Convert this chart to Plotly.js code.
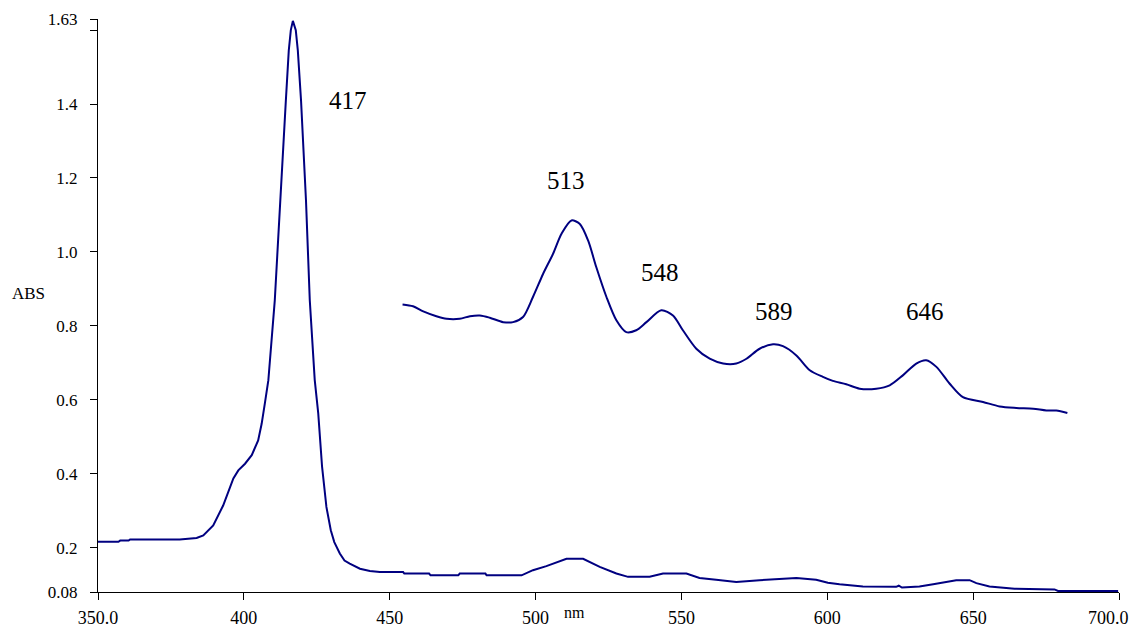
<!DOCTYPE html>
<html>
<head>
<meta charset="utf-8">
<script src="https://cdn.plot.ly/plotly-3.0.1.min.js"></script>
<style>html,body{margin:0;padding:0;background:#fff;}#chart{width:1135px;height:628px;}</style>
</head>
<body>
<div id="chart"></div>
<script>
// Full spectrum (nm, absorbance)
var fullX = [350, 357, 357.6, 360.5, 361, 378, 383.8, 386.1, 389.5, 392.9, 396.4, 398.1, 400.4, 402.7, 404.9, 406.1, 407.2, 408.4, 410.6, 412.4, 414.4, 415.4, 416.1, 416.8, 417.8, 418.5, 419.6, 421.3, 422.6, 424.3, 425.5, 426.8, 428.3, 429.8, 431, 432.9, 434.5, 436.3, 439.8, 443.2, 446.6, 454.6, 455, 463.5, 464, 473.5, 474, 482.8, 483.2, 495.2, 499.1, 503.7, 510.6, 516.3, 522, 527.7, 531.7, 539.1, 543.7, 551.7, 556.2, 561.9, 568.8, 576.8, 583.7, 589.4, 596.2, 600.2, 604.2, 612.2, 623.6, 624.5, 625.6, 631.6, 636.3, 644.2, 648.8, 651.1, 655.6, 664.2, 677.9, 679.1, 699.7];
var fullY = [0.216, 0.216, 0.219, 0.219, 0.222, 0.222, 0.226, 0.233, 0.260, 0.314, 0.387, 0.409, 0.427, 0.450, 0.490, 0.535, 0.590, 0.653, 0.869, 1.139, 1.410, 1.545, 1.600, 1.625, 1.600, 1.545, 1.410, 1.139, 0.869, 0.653, 0.563, 0.420, 0.310, 0.247, 0.215, 0.184, 0.165, 0.157, 0.143, 0.137, 0.134, 0.134, 0.130, 0.130, 0.125, 0.125, 0.130, 0.130, 0.125, 0.125, 0.139, 0.150, 0.170, 0.170, 0.148, 0.130, 0.121, 0.121, 0.130, 0.130, 0.118, 0.113, 0.107, 0.112, 0.115, 0.118, 0.113, 0.105, 0.101, 0.095, 0.094, 0.097, 0.092, 0.095, 0.101, 0.112, 0.112, 0.104, 0.095, 0.089, 0.087, 0.083, 0.083];

// Magnified visible-region trace
var zoomX = [454.4, 458.0, 461.5, 466.0, 469.5, 474.0, 477.5, 480.9, 484.3, 488.9, 492.3, 495.7, 499.1, 502.6, 506.0, 508.9, 512.3, 515.1, 518.0, 520.8, 524.3, 527.7, 531.1, 534.5, 538.0, 543.1, 547.1, 550.5, 555.1, 559.7, 564.3, 568.8, 572.3, 576.8, 581.4, 584.8, 589.4, 594.0, 598.5, 601.9, 606.5, 611.1, 616.8, 621.4, 625.9, 630.5, 633.9, 637.4, 641.9, 646.5, 653.4, 659.1, 664.8, 670.6, 675.1, 678.5, 682.3];
var zoomY = [0.858, 0.853, 0.839, 0.826, 0.819, 0.819, 0.826, 0.828, 0.822, 0.810, 0.810, 0.824, 0.878, 0.941, 0.995, 1.049, 1.085, 1.076, 1.031, 0.959, 0.878, 0.815, 0.783, 0.788, 0.810, 0.842, 0.828, 0.788, 0.738, 0.711, 0.698, 0.698, 0.711, 0.738, 0.750, 0.745, 0.720, 0.680, 0.662, 0.651, 0.642, 0.630, 0.630, 0.639, 0.666, 0.698, 0.707, 0.689, 0.644, 0.607, 0.594, 0.582, 0.578, 0.576, 0.571, 0.571, 0.564];

// Peak labels
var peakText = ["417", "513", "548", "589", "646"];
var peakX = [435.7, 510.3, 542.6, 581.6, 633.4];
var peakY = [1.41, 1.193, 0.945, 0.84, 0.84];

var yTickVals = [0.08, 0.2, 0.4, 0.6, 0.8, 1.0, 1.2, 1.4, 1.6, 1.63];
var yTickText = ["0.08", "0.2", "0.4", "0.6", "0.8", "1.0", "1.2", "1.4", "", "1.63"];
var xTickVals = [350, 400, 450, 500, 550, 600, 650, 700];
var xTickText = ["350.0", "400", "450", "500", "550", "600", "650", "700.0"];

var traces = [
  {x: fullX, y: fullY, type: "scatter", mode: "lines",
   line: {color: "#000080", width: 2}, hoverinfo: "skip"},
  {x: zoomX, y: zoomY, type: "scatter", mode: "lines",
   line: {color: "#000080", width: 2, shape: "spline", smoothing: 0.8}, hoverinfo: "skip"}
];

var tickFont = {family: "Liberation Serif", size: 18, color: "#000"};
var lastIdx = xTickVals.length - 1;
// last x tick label is drawn inside the canvas, right-aligned like the original
var xAxisText = xTickText.map(function (t, i) { return i === lastIdx ? "" : t; });

var annotations = peakText.map(function (t, i) {
  return {x: peakX[i], y: peakY[i], xref: "x", yref: "y", text: t, showarrow: false,
          font: {family: "Liberation Serif", size: 25, color: "#000"}};
});
annotations.push({x: xTickVals[lastIdx], y: 0, xref: "x", yref: "paper", text: xTickText[lastIdx],
  showarrow: false, xanchor: "right", yanchor: "top", xshift: 12, yshift: -14, font: tickFont});
annotations.push({x: 0.467, y: -0.035, xref: "paper", yref: "paper", text: "nm", showarrow: false,
  xanchor: "center", yanchor: "middle", font: {family: "Liberation Serif", size: 16, color: "#000"}});
annotations.push({x: -0.0685, y: 0.521, xref: "paper", yref: "paper", text: "ABS", showarrow: false,
  xanchor: "center", yanchor: "middle", font: {family: "Liberation Serif", size: 17, color: "#000"}});

var layout = {
  width: 1135, height: 628,
  margin: {l: 98, r: 15.5, t: 18.5, b: 36.3, pad: 0},
  paper_bgcolor: "#fff", plot_bgcolor: "#fff",
  showlegend: false,
  font: {family: "Liberation Serif", size: 18, color: "#000"},
  xaxis: {
    range: [350, 700], tickmode: "array", tickvals: xTickVals, ticktext: xAxisText,
    showgrid: false, zeroline: false, showline: true, linecolor: "#000", linewidth: 1,
    ticks: "outside", ticklen: 7, tickcolor: "#000", tickwidth: 1,
    ticklabelstandoff: 2,
    tickfont: tickFont
  },
  yaxis: {
    range: [0.08, 1.63], tickmode: "array", tickvals: yTickVals, ticktext: yTickText,
    showgrid: false, zeroline: false, showline: true, linecolor: "#000", linewidth: 1,
    ticks: "outside", ticklen: 7, tickcolor: "#000", tickwidth: 1,
    ticklabelstandoff: 9,
    tickfont: {family: "Liberation Serif", size: 17, color: "#000"}
  },
  annotations: annotations
};

Plotly.newPlot("chart", traces, layout, {staticPlot: true, displayModeBar: false});
</script>
</body>
</html>
